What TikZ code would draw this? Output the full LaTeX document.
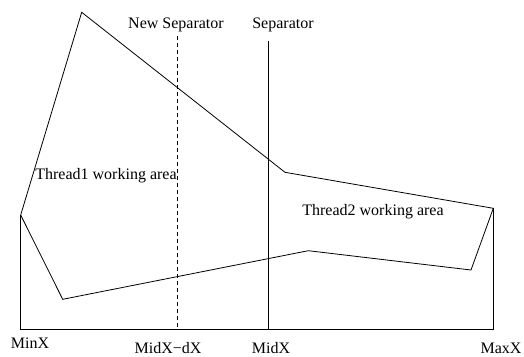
\documentclass[tikz,border=0pt]{standalone}
\usepackage{fontspec}
\setmainfont{Liberation Serif}
\begin{document}
\begin{tikzpicture}[x=1pt,y=-1pt,
  lbl/.style={inner sep=0pt,anchor=base,font=\fontsize{16}{19}\selectfont},
  ln/.style={line width=0.8pt}]
\useasboundingbox (0,0) rectangle (524,356);
% polygon vertices
\coordinate (p1) at (20.7,215);
\coordinate (p2) at (81.7,12.3);
\coordinate (p3) at (285,172.3);
\coordinate (p4) at (493.3,208.3);
\coordinate (p5) at (471,270);
\coordinate (p6) at (308.3,250.7);
\coordinate (p7) at (62.7,299.3);
\coordinate (b1) at (20.7,329.3);
\coordinate (b2) at (493.3,329.3);
\coordinate (dtop) at (177.3,36);
\coordinate (dbot) at (177.3,329.3);
\coordinate (stop) at (268.3,41);
\coordinate (sbot) at (268.3,329.3);
\draw[ln] (p1) -- (p2) -- (p3) -- (p4) -- (p5) -- (p6) -- (p7) -- cycle;
\draw[ln] (p1) -- (b1) -- (b2) -- (p4);
\draw[ln,dash pattern=on 4pt off 3pt] (dtop) -- (dbot);
\draw[ln] (stop) -- (sbot);
% labels
\node[lbl] (newsep) at (176,28) {New Separator};
\node[lbl] (sep) at (283,28) {Separator};
\node[lbl] (t1) at (106,179) {Thread1 working area};
\node[lbl] (t2) at (373,215) {Thread2 working area};
\node[lbl] (minx) at (30,348) {MinX};
\node[lbl] (middx) at (168,353) {MidX−dX};
\node[lbl] (midx) at (271,353) {MidX};
\node[lbl] (maxx) at (501,353) {MaxX};
\end{tikzpicture}
\end{document}
